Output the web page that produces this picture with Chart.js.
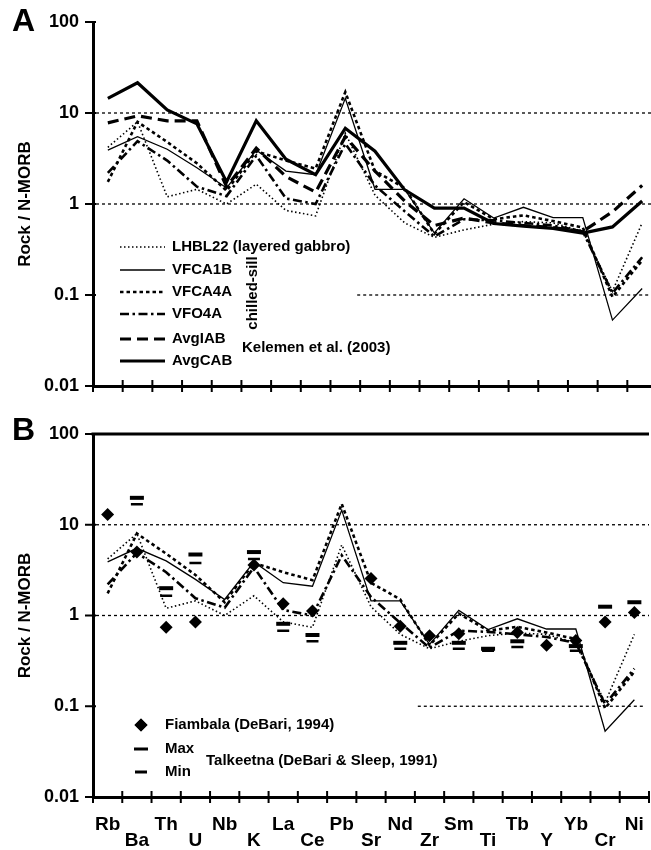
<!DOCTYPE html>
<html>
<head>
<meta charset="utf-8">
<script src="https://cdn.jsdelivr.net/npm/chart.js@4/dist/chart.umd.min.js"></script>
<style>
  html, body { margin: 0; padding: 0; background: #fff; overflow: hidden; }
  #wrap { position: relative; width: 651px; height: 850px; overflow: hidden; background: #fff; }
  #wrap canvas { position: absolute; left: 0; }
  #panelA { top: 0; }
  #panelB { top: 410px; }
</style>
</head>
<body>
<div id="wrap">
  <canvas id="panelA" width="660" height="400"></canvas>
  <canvas id="panelB" width="660" height="440"></canvas>
</div>
<script>
// Trace elements, N-MORB normalised
const elements = ['Rb','Ba','Th','U','Nb','K','La','Ce','Pb','Sr','Nd','Zr','Sm','Ti','Tb','Y','Yb','Cr','Ni'];
const yTickValues = [0.01, 0.1, 1, 10, 100];

// Chilled-sill and layered gabbro samples
const lhbl22 = [4.2, 8.0, 1.2, 1.45, 1.0, 1.65, 0.85, 0.74, 6.0, 1.25, 0.62, 0.43, 0.52, 0.6, 0.64, 0.62, 0.5, 0.11, 0.62];
const vfca1b = [3.9, 5.5, 4.0, 2.5, 1.5, 3.9, 2.3, 2.1, 14.5, 1.45, 1.45, 0.48, 1.14, 0.7, 0.92, 0.71, 0.71, 0.053, 0.118];
const vfca4a = [1.75, 8.0, 4.8, 2.8, 1.4, 3.8, 3.0, 2.45, 17, 2.3, 1.5, 0.47, 1.05, 0.68, 0.75, 0.65, 0.55, 0.095, 0.24];
const vfo4a  = [2.2, 4.9, 3.0, 1.55, 1.22, 3.4, 1.15, 1.0, 4.6, 1.6, 0.83, 0.44, 0.68, 0.66, 0.62, 0.58, 0.5, 0.105, 0.26];

// Kelemen et al. (2003) averages
const avgIAB = [7.8, 9.3, 8.2, 8.2, 1.55, 4.1, 2.0, 1.35, 5.5, 2.3, 1.08, 0.58, 0.7, 0.62, 0.58, 0.55, 0.5, 0.82, 1.6];
const avgCAB = [14.5, 21.5, 10.8, 7.6, 1.75, 8.2, 3.1, 2.1, 6.8, 3.8, 1.43, 0.9, 0.9, 0.61, 0.57, 0.54, 0.48, 0.56, 1.08];

// Fiambala (DeBari, 1994)
const fiambala = [13, 5.0, 0.74, 0.85, null, 3.6, 1.35, 1.12, null, 2.55, 0.76, 0.6, 0.63, null, 0.65, 0.47, 0.53, 0.85, 1.08];
// Talkeetna (DeBari & Sleep, 1991) range
const talkeetnaMax = [null, 19.8, 2.0, 4.7, null, 5.0, 0.81, 0.61, null, null, 0.5, null, 0.5, 0.43, 0.52, null, 0.46, 1.25, 1.4];
const talkeetnaMin = [null, 16.8, 1.65, 3.8, null, 4.2, 0.68, 0.52, null, null, 0.43, null, 0.43, 0.41, 0.45, null, 0.41, null, null];

// Dotted reference levels
const fullRefLevels = [10, 1];
const partialRefLevel = [0.1];

const FONT = '"Liberation Sans", Arial, Helvetica, sans-serif';
Chart.defaults.font.family = FONT;
Chart.defaults.color = '#000';

const lineStyles = {
  lhbl22: { borderWidth: 1.6, borderDash: [1.5, 2.5] },
  vfca1b: { borderWidth: 1.3, borderDash: [] },
  vfca4a: { borderWidth: 2.6, borderDash: [3.5, 3] },
  vfo4a:  { borderWidth: 2.6, borderDash: [9, 3.5, 2.5, 3.5] },
  avgIAB: { borderWidth: 3.2, borderDash: [11, 6] },
  avgCAB: { borderWidth: 3.2, borderDash: [] }
};

function lineSet(label, data, key) {
  return Object.assign({
    type: 'line', label, data,
    borderColor: '#000', backgroundColor: '#000',
    pointRadius: 0, tension: 0, fill: false, order: 2,
    borderCapStyle: 'butt', borderJoinStyle: 'miter'
  }, lineStyles[key]);
}

function markerSet(label, data, style) {
  return Object.assign({
    type: 'line', label, data, showLine: false, order: 0,
    borderColor: '#000', backgroundColor: '#000'
  }, style);
}

const diamondStyle = { pointStyle: 'rectRot', pointRadius: 6.5, pointBorderWidth: 0 };
const maxStyle = { pointStyle: 'line', pointRadius: 7, pointBorderWidth: 4 };
const minStyle = { pointStyle: 'line', pointRadius: 6, pointBorderWidth: 2.5 };

function line(ctx, x1, y1, x2, y2) {
  ctx.beginPath(); ctx.moveTo(x1, y1); ctx.lineTo(x2, y2); ctx.stroke();
}

// Reference levels, crossing tick marks, frame, panel letter and key
const decor = {
  id: 'decor',
  beforeDatasetsDraw(chart, args, opts) {
    const { ctx, chartArea: ca, scales: { x, y } } = chart;
    ctx.save();
    ctx.strokeStyle = '#000';
    ctx.lineWidth = 1.3;
    ctx.setLineDash([3, 3]);
    fullRefLevels.forEach(v => {
      const py = y.getPixelForValue(v);
      line(ctx, ca.left + 3, py, ca.right, py);
    });
    partialRefLevel.forEach(v => {
      const py = y.getPixelForValue(v);
      line(ctx, x.getPixelForValue(opts.partialFrom), py, x.getPixelForValue(opts.partialTo), py);
    });
    ctx.restore();
  },
  afterDraw(chart, args, opts) {
    const { ctx, chartArea: ca, scales: { x, y } } = chart;
    ctx.save();
    ctx.strokeStyle = '#000';
    ctx.fillStyle = '#000';
    ctx.setLineDash([]);
    ctx.lineWidth = 2;
    // x tick marks on category boundaries
    for (let i = 0; i <= elements.length; i++) {
      let px;
      if (i === 0) px = ca.left;
      else if (i === elements.length) px = ca.right;
      else px = (x.getPixelForValue(i - 1) + x.getPixelForValue(i)) / 2;
      line(ctx, px, ca.bottom - 6, px, ca.bottom + 6);
    }
    // y tick marks at each decade
    yTickValues.forEach(v => {
      const py = y.getPixelForValue(v);
      line(ctx, ca.left - 8, py, ca.left + 3, py);
    });
    if (opts.topFrame) {
      ctx.lineWidth = 3;
      line(ctx, ca.left - 1.5, ca.top, ca.right, ca.top);
    }
    // panel letter
    ctx.font = 'bold 32px ' + FONT;
    ctx.textAlign = 'left';
    ctx.textBaseline = 'middle';
    ctx.fillText(opts.letter, 12, opts.letterY);

    ctx.font = 'bold 15px ' + FONT;
    if (opts.key === 'lines') {
      const rows = [247, 270, 292, 314, 339, 361];
      chart.data.datasets.forEach((ds, i) => {
        ctx.save();
        ctx.lineWidth = ds.borderWidth;
        ctx.setLineDash(ds.borderDash || []);
        line(ctx, 120, rows[i], 165, rows[i]);
        ctx.restore();
        ctx.fillText(ds.label, 172, rows[i]);
      });
      ctx.save();
      ctx.translate(253, 293);
      ctx.rotate(-Math.PI / 2);
      ctx.textAlign = 'center';
      ctx.fillText('chilled-sill', 0, 0);
      ctx.restore();
      ctx.fillText('Kelemen et al. (2003)', 242, 348);
    } else if (opts.key === 'markers') {
      const markers = chart.data.datasets.filter(ds => ds.showLine === false);
      const rowY = [315, 339, 362];
      const names = ['Fiambala (DeBari, 1994)', 'Max', 'Min'];
      markers.forEach((ds, i) => {
        Chart.helpers.drawPoint(ctx, {
          pointStyle: ds.pointStyle, radius: ds.pointRadius,
          borderWidth: ds.pointBorderWidth, rotation: 0
        }, 141, rowY[i]);
        if (ds.pointStyle === 'rectRot') ctx.fill();
        ctx.fillText(names[i], 165, rowY[i]);
      });
      ctx.fillText('Talkeetna (DeBari & Sleep, 1991)', 206, 351);
    }
    ctx.restore();
  }
};

function yScale() {
  return {
    type: 'logarithmic', min: 0.01, max: 100,
    afterFit(scale) { scale.width = 93; },
    afterBuildTicks(scale) { scale.ticks = yTickValues.map(v => ({ value: v })); },
    // tick length only spaces the labels; the marks themselves are drawn by the plugin
    grid: { display: false, drawTicks: true, tickLength: 14 },
    border: { display: true, width: 3, color: '#000' },
    ticks: {
      padding: 0, color: '#000',
      font: { size: 18, weight: 'bold' },
      callback: v => String(v)
    },
    title: {
      display: true, text: 'Rock / N-MORB', color: '#000',
      font: { size: 17, weight: 'bold' }, padding: { top: 15, bottom: 0 }
    }
  };
}

function xScale(showLabels, height) {
  return {
    type: 'category', labels: elements, offset: true,
    afterFit(scale) { scale.height = height; },
    grid: { display: false, drawTicks: true, tickLength: 20 },
    border: { display: true, width: 3, color: '#000' },
    ticks: {
      display: showLabels, autoSkip: false, maxRotation: 0, minRotation: 0,
      padding: 0, color: '#000',
      font: { size: 19, weight: 'bold', lineHeight: '16px' },
      callback: (v, i) => (i % 2 ? ['', elements[i]] : elements[i])
    }
  };
}

new Chart(document.getElementById('panelA'), {
  type: 'line',
  data: {
    labels: elements,
    datasets: [
      lineSet('LHBL22 (layered gabbro)', lhbl22, 'lhbl22'),
      lineSet('VFCA1B', vfca1b, 'vfca1b'),
      lineSet('VFCA4A', vfca4a, 'vfca4a'),
      lineSet('VFO4A', vfo4a, 'vfo4a'),
      lineSet('AvgIAB', avgIAB, 'avgIAB'),
      lineSet('AvgCAB', avgCAB, 'avgCAB')
    ]
  },
  options: {
    responsive: false, animation: false,
    layout: { padding: { left: 0, right: 3, top: 22, bottom: 0 } },
    scales: { x: xScale(false, 14), y: yScale() },
    plugins: {
      legend: { display: false }, tooltip: { enabled: false },
      decor: { letter: 'A', letterY: 22, key: 'lines', topFrame: false, partialFrom: 8.4, partialTo: 18.3 }
    }
  },
  plugins: [decor]
});

new Chart(document.getElementById('panelB'), {
  type: 'line',
  data: {
    labels: elements,
    datasets: [
      lineSet('LHBL22 (layered gabbro)', lhbl22, 'lhbl22'),
      lineSet('VFCA1B', vfca1b, 'vfca1b'),
      lineSet('VFCA4A', vfca4a, 'vfca4a'),
      lineSet('VFO4A', vfo4a, 'vfo4a'),
      markerSet('Fiambala', fiambala, diamondStyle),
      markerSet('Talkeetna max', talkeetnaMax, maxStyle),
      markerSet('Talkeetna min', talkeetnaMin, minStyle)
    ]
  },
  options: {
    responsive: false, animation: false,
    layout: { padding: { left: 0, right: 3, top: 24, bottom: 0 } },
    scales: { x: xScale(true, 53), y: yScale() },
    plugins: {
      legend: { display: false }, tooltip: { enabled: false },
      decor: { letter: 'B', letterY: 21, key: 'markers', topFrame: true, partialFrom: 10.6, partialTo: 18.3 }
    }
  },
  plugins: [decor]
});
</script>
</body>
</html>
